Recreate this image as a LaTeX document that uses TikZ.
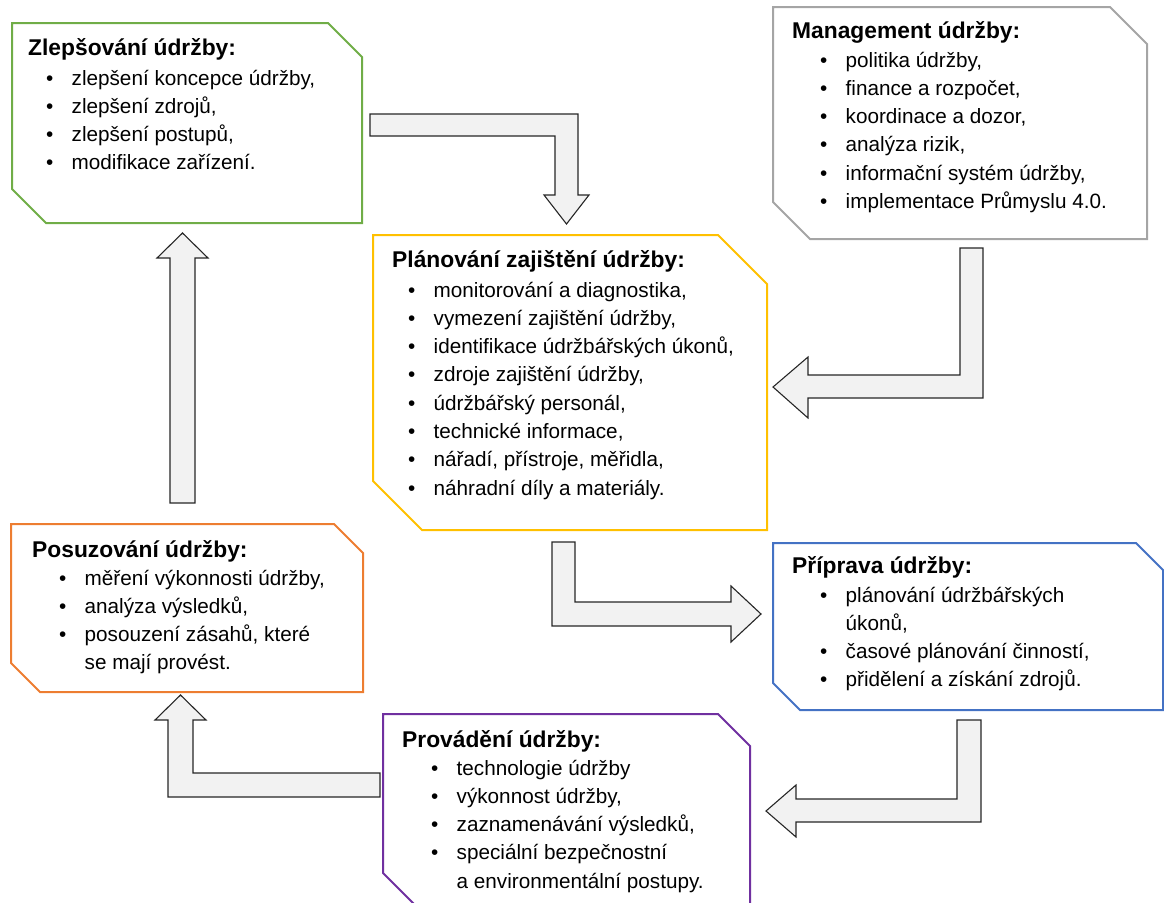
\documentclass[tikz,border=0pt]{standalone}
\usepackage{fontspec}
\setmainfont{Liberation Sans}
\definecolor{arrowfill}{HTML}{F2F2F2}
\definecolor{cgreen}{HTML}{70AD47}
\definecolor{cgray}{HTML}{A5A5A5}
\definecolor{cgold}{HTML}{FFC000}
\definecolor{cblue}{HTML}{4472C4}
\definecolor{cpurple}{HTML}{7030A0}
\definecolor{corange}{HTML}{ED7D31}
% bullet with its gap, and the indent of a wrapped line
\newcommand\bul{\makebox[25.5pt][l]{•}}
\newcommand\cont{\hspace*{25.5pt}}
% box with cut top-right and bottom-left corners: left, top, right, bottom, cut, colour
\newcommand\chbox[6]{%
  \draw[boxline, draw=#6] (#1,#2) -- ({#3-#5},#2) -- (#3,{#2+#5}) -- (#3,#4)
    -- ({#1+#5},#4) -- (#1,{#4-#5}) -- cycle;}
\begin{document}
\begin{tikzpicture}[x=1pt,y=-1pt,
  boxline/.style={line width=2pt, line join=miter},
  blockarrow/.style={draw=black!85, fill=arrowfill, line width=1.1pt, line join=miter},
  heading/.style={anchor=base west, inner sep=0pt, font=\fontsize{22.8}{28}\selectfont\bfseries},
  itemlist/.style={anchor=base west, inner sep=0pt, font=\fontsize{20.7}{28.3}\selectfont}]
\useasboundingbox (0,0) rectangle (1164,902);

% ---- boxes ----
\chbox{12}{23}{362}{223}{34}{cgreen}
\chbox{773}{7}{1147}{239}{37}{cgray}
\chbox{373}{235}{767}{530}{49}{cgold}
\chbox{773}{543}{1163}{710}{27}{cblue}
\chbox{383}{714}{750}{905}{32}{cpurple}
\chbox{11}{524}{363}{692}{29}{corange}

% ---- texts ----
\node[heading] (t1) at (28,55) {Zlepšování údržby:};
\node[itemlist] (l1) at (46,85) {\parbox[t]{320pt}{%
  \bul zlepšení koncepce údržby,\\
  \bul zlepšení zdrojů,\\
  \bul zlepšení postupů,\\
  \bul modifikace zařízení.}};

\node[heading] (t2) at (792,38) {Management údržby:};
\node[itemlist] (l2) at (820,67) {\parbox[t]{330pt}{%
  \bul politika údržby,\\
  \bul finance a rozpočet,\\
  \bul koordinace a dozor,\\
  \bul analýza rizik,\\
  \bul informační systém údržby,\\
  \bul implementace Průmyslu 4.0.}};

\node[heading] (t3) at (392,267) {Plánování zajištění údržby:};
\node[itemlist] (l3) at (408,297) {\parbox[t]{350pt}{%
  \bul monitorování a diagnostika,\\
  \bul vymezení zajištění údržby,\\
  \bul identifikace údržbářských úkonů,\\
  \bul zdroje zajištění údržby,\\
  \bul údržbářský personál,\\
  \bul technické informace,\\
  \bul nářadí, přístroje, měřidla,\\
  \bul náhradní díly a materiály.}};

\node[heading] (t4) at (792,573) {Příprava údržby:};
\node[itemlist] (l4) at (820,602) {\parbox[t]{330pt}{%
  \bul plánování údržbářských\\
  \cont úkonů,\\
  \bul časové plánování činností,\\
  \bul přidělení a získání zdrojů.}};

\node[heading] (t5) at (402,747) {Provádění údržby:};
\node[itemlist] (l5) at (431,775) {\parbox[t]{320pt}{%
  \bul technologie údržby\\
  \bul výkonnost údržby,\\
  \bul zaznamenávání výsledků,\\
  \bul speciální bezpečnostní\\
  \cont a environmentální postupy.}};

\node[heading] (t6) at (32,557) {Posuzování údržby:};
\node[itemlist] (l6) at (59,585) {\parbox[t]{300pt}{%
  \bul měření výkonnosti údržby,\\
  \bul analýza výsledků,\\
  \bul posouzení zásahů, které\\
  \cont se mají provést.}};

% ---- block arrows ----
% improvement -> planning
\draw[blockarrow] (370,114) -- (578,114) -- (578,195) -- (589,195) -- (566.5,224)
  -- (544,195) -- (555,195) -- (555,136) -- (370,136) -- cycle;
% management -> planning
\draw[blockarrow] (960,248) -- (983,248) -- (983,398) -- (808,398) -- (808,418)
  -- (773,387) -- (808,357) -- (808,375) -- (960,375) -- cycle;
% planning -> preparation
\draw[blockarrow] (552,542) -- (575,542) -- (575,602) -- (731,602) -- (731,586)
  -- (761,614) -- (731,642) -- (731,626) -- (552,626) -- cycle;
% preparation -> execution
\draw[blockarrow] (957,720) -- (981,720) -- (981,822) -- (796,822) -- (796,837)
  -- (766,811) -- (796,785) -- (796,799) -- (957,799) -- cycle;
% execution -> assessment
\draw[blockarrow] (380,797) -- (168,797) -- (168,720) -- (155,720) -- (180.5,695)
  -- (206,720) -- (193,720) -- (193,773) -- (380,773) -- cycle;
% assessment -> improvement
\draw[blockarrow] (170,503) -- (195,503) -- (195,258) -- (208,258) -- (182.5,233)
  -- (157,258) -- (170,258) -- cycle;
\end{tikzpicture}
\end{document}
